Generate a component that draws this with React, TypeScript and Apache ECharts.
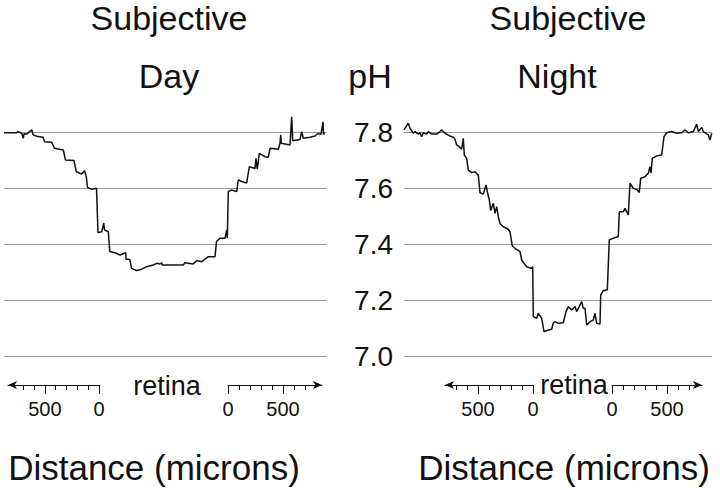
import React, { useEffect, useRef } from 'react';
import * as echarts from 'echarts';

// pH axis
const phMin = 7.0;
const phMax = 7.8;
const phStep = 0.2;

// distance scale (microns) shown under each panel
const distanceMajor = [0, 500];
const distanceMinor = [100, 200, 300, 400, 600, 700];

// titles
const panelTitles = [
  ['Subjective', 'Day'],
  ['Subjective', 'Night'],
];
const yAxisName = 'pH';
const xAxisName = 'Distance (microns)';
const middleLabel = 'retina';

// pH traces: [track position, pH]
const dayTrace = [
  [0, 7.8], [12.7, 7.8], [14, 7.804], [17.7, 7.798], [19.3, 7.78], [20, 7.796], [22.7, 7.795],
  [27.7, 7.81], [29.3, 7.792], [34, 7.786], [39, 7.784], [40.5, 7.768], [47.7, 7.766],
  [50.5, 7.744], [59.3, 7.738], [61.5, 7.702], [70, 7.7], [72.3, 7.66], [77.7, 7.652],
  [80.5, 7.664], [82.3, 7.642], [83.5, 7.604], [87.7, 7.597], [92.5, 7.601], [94, 7.442],
  [97.7, 7.445], [99.7, 7.476], [100.5, 7.452], [104.3, 7.445], [105.8, 7.374], [111, 7.37],
  [116, 7.362], [121.7, 7.37], [122, 7.347], [124.3, 7.347], [126, 7.344], [127.5, 7.314],
  [132.7, 7.306], [137.7, 7.311], [142.7, 7.32], [149.3, 7.326], [152.7, 7.332], [156, 7.33],
  [157.7, 7.334], [158.3, 7.326], [179.3, 7.326], [181, 7.334], [189.3, 7.33], [192.7, 7.342],
  [197.7, 7.338], [201, 7.347], [204.3, 7.356], [211, 7.356], [212.5, 7.41], [216, 7.422],
  [221, 7.422], [222.7, 7.452], [223.3, 7.422], [224.3, 7.589], [227.7, 7.595], [232.7, 7.589],
  [234.3, 7.631], [237.7, 7.625], [242.7, 7.62], [245.3, 7.678], [251, 7.672], [252, 7.708],
  [253.3, 7.669], [255.3, 7.726], [261, 7.714], [264.3, 7.712], [266, 7.744], [274.3, 7.741],
  [276, 7.762], [276.7, 7.792], [277.3, 7.762], [286, 7.756], [287.7, 7.857], [288.7, 7.771],
  [296, 7.776], [297.7, 7.804], [299.3, 7.78], [306, 7.784], [311, 7.788], [314, 7.797],
  [317, 7.794], [319, 7.839], [319.5, 7.795], [321, 7.797],
];

const nightTrace = [
  [0, 7.81], [4.3, 7.834], [6, 7.816], [9.3, 7.798], [11, 7.804], [14.3, 7.795], [16, 7.8],
  [17.7, 7.786], [19.3, 7.8], [22.7, 7.795], [24.3, 7.804], [27.7, 7.795], [32.7, 7.795],
  [36, 7.804], [37.7, 7.81], [41, 7.798], [46, 7.788], [49.3, 7.784], [51, 7.776],
  [52.7, 7.756], [55.3, 7.75], [57.7, 7.741], [59.3, 7.78], [60.3, 7.72], [62.7, 7.708],
  [64.3, 7.666], [67.7, 7.657], [71, 7.66], [74.3, 7.648], [76, 7.585], [79.3, 7.58],
  [82, 7.613], [83.3, 7.589], [85.3, 7.559], [86.7, 7.521], [89.3, 7.547], [91, 7.511],
  [92.7, 7.535], [94.3, 7.499], [96, 7.475], [99.3, 7.463], [104.3, 7.454], [106, 7.445],
  [108.3, 7.394], [111, 7.386], [116, 7.374], [117.7, 7.344], [120, 7.332], [122.7, 7.32],
  [127, 7.314], [128.7, 7.32], [129.3, 7.141], [132.7, 7.135], [134.3, 7.153], [137.7, 7.135],
  [140, 7.087], [144.3, 7.093], [147.7, 7.096], [149.3, 7.119], [151, 7.123], [154.3, 7.117],
  [159.3, 7.119], [162, 7.159], [164.3, 7.177], [167.7, 7.165], [171, 7.177], [172.7, 7.159],
  [176, 7.183], [177.7, 7.195], [179.3, 7.171], [181, 7.171], [182.7, 7.111], [186, 7.123],
  [189.3, 7.129], [191, 7.153], [192.7, 7.117], [196, 7.115], [196.7, 7.219], [199.3, 7.234],
  [203.3, 7.237], [205.3, 7.416], [209.3, 7.422], [214.3, 7.428], [215.3, 7.517], [219.3, 7.517],
  [221, 7.529], [224.3, 7.505], [226, 7.619], [229.3, 7.601], [233.3, 7.595], [235.3, 7.586],
  [236.7, 7.637], [241, 7.642], [244.3, 7.655], [246, 7.678], [247, 7.655], [248.3, 7.708],
  [252.7, 7.717], [257.7, 7.72], [260, 7.786], [262.7, 7.8], [267.7, 7.804], [272.7, 7.798],
  [277.7, 7.8], [281, 7.81], [284.3, 7.8], [289.3, 7.804], [292.7, 7.831], [294.3, 7.804],
  [297.7, 7.819], [299.3, 7.804], [304.3, 7.792], [306, 7.774], [307.7, 7.798],
];

const FONT = '"Liberation Sans", Arial, Helvetica, sans-serif';
const INK = '#111';

export default function App() {
  const ref = useRef<HTMLDivElement>(null);

  useEffect(() => {
    if (!ref.current) return;
    const chart = echarts.init(ref.current, null, { renderer: 'svg' });

    const panels = [
      { left: 4, width: 323, max: 323, data: dayTrace, labels: false },
      { left: 404, width: 308, max: 308, data: nightTrace, labels: true },
    ];
    const top = 132.7;
    const height = 223.3;

    const grid: any[] = [];
    const xAxis: any[] = [];
    const yAxis: any[] = [];
    const series: any[] = [];

    panels.forEach((p, i) => {
      grid.push({ left: p.left, top, width: p.width, height });
      xAxis.push({ gridIndex: i, type: 'value', min: 0, max: p.max, show: false });
      yAxis.push({
        gridIndex: i,
        type: 'value',
        min: phMin,
        max: phMax,
        interval: phStep,
        axisLine: { show: false },
        axisTick: { show: false },
        splitLine: { show: true, lineStyle: { color: '#9a9a9a', width: 1 } },
        axisLabel: {
          show: p.labels,
          margin: 11,
          fontSize: 28,
          fontFamily: FONT,
          color: INK,
          formatter: (v: number) => v.toFixed(1),
        },
      });
      series.push({
        type: 'line',
        xAxisIndex: i,
        yAxisIndex: i,
        data: p.data,
        showSymbol: false,
        clip: false,
        lineStyle: { color: INK, width: 1.5 },
      });
    });

    // distance scales beneath the panels
    const halves = [
      { left: 8, width: 91, min: -840, max: 0, sign: -1, symbol: ['arrow', 'none'] },
      { left: 228, width: 94, min: 0, max: 855, sign: 1, symbol: ['none', 'arrow'] },
      { left: 445, width: 88, min: -800, max: 0, sign: -1, symbol: ['arrow', 'none'] },
      { left: 612, width: 90, min: 0, max: 818, sign: 1, symbol: ['none', 'arrow'] },
    ];
    const axisY = 385;
    halves.forEach((h) => {
      // minor ticks + arrowed line
      const gi = grid.length;
      grid.push({ left: h.left, top: axisY - 5, width: h.width, height: 5 });
      yAxis.push({ gridIndex: gi, type: 'value', show: false });
      xAxis.push({
        gridIndex: gi,
        type: 'value',
        position: 'bottom',
        min: h.min,
        max: h.max,
        splitLine: { show: false },
        axisLine: {
          show: true,
          symbol: h.symbol,
          symbolSize: [6, 9],
          lineStyle: { color: INK, width: 1 },
        },
        axisTick: {
          show: true,
          length: 5,
          customValues: distanceMinor.map((v) => v * h.sign),
          lineStyle: { color: INK, width: 1 },
        },
        axisLabel: { show: false },
      });
      // major ticks + labels
      const gj = grid.length;
      grid.push({ left: h.left, top: axisY - 5, width: h.width, height: 5 });
      yAxis.push({ gridIndex: gj, type: 'value', show: false });
      xAxis.push({
        gridIndex: gj,
        type: 'value',
        position: 'bottom',
        min: h.min,
        max: h.max,
        splitLine: { show: false },
        axisLine: { show: false },
        axisTick: {
          show: true,
          length: 9,
          customValues: distanceMajor.map((v) => v * h.sign),
          lineStyle: { color: INK, width: 1 },
        },
        axisLabel: {
          show: true,
          margin: 14,
          fontSize: 20,
          fontFamily: FONT,
          color: INK,
          customValues: distanceMajor.map((v) => v * h.sign),
          showMinLabel: true,
          showMaxLabel: true,
          formatter: (v: number) => String(Math.abs(v)),
        },
      });
    });

    const txt = (text: string, x: number, y: number, size: number) => ({
      type: 'text',
      x,
      y,
      style: {
        text,
        fill: INK,
        fontSize: size,
        fontFamily: FONT,
        align: 'center',
        verticalAlign: 'middle',
      },
    });

    const graphic: any[] = [
      txt(panelTitles[0][0], 169, 18, 34),
      txt(panelTitles[0][1], 169, 76, 34),
      txt(panelTitles[1][0], 568, 18, 34),
      txt(panelTitles[1][1], 557, 76, 34),
      txt(yAxisName, 370, 76, 34),
      txt(xAxisName, 154, 467, 35),
      txt(xAxisName, 564, 467, 35),
      txt(middleLabel, 167, 386, 27),
      txt(middleLabel, 574, 385, 27),
    ];

    chart.setOption({
      animation: false,
      backgroundColor: '#fff',
      grid,
      xAxis,
      yAxis,
      series,
      graphic,
    });

    return () => chart.dispose();
  }, []);

  return (
    <div
      ref={ref}
      style={{ position: 'fixed', left: 0, top: 0, width: 720, height: 490, background: '#fff' }}
    />
  );
}
